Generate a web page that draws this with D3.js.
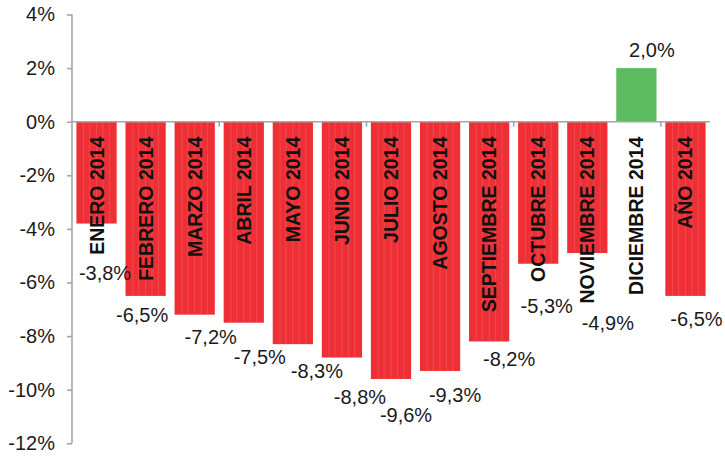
<!DOCTYPE html>
<html>
<head>
<meta charset="utf-8">
<script src="https://cdn.jsdelivr.net/npm/d3@7"></script>
<style>
  body { margin: 0; background: #fff; }
  svg { display: block; font-family: "Liberation Sans", Arial, sans-serif; }
  .yAxis path { stroke: #a6a6a6; stroke-width: 1.6; }
  .yAxis line { stroke: #a6a6a6; stroke-width: 1.6; }
  .yAxis text { font-size: 20px; fill: #1a1a1a; }
</style>
</head>
<body>
<script>
//chart data
var months = ["ENERO 2014", "FEBRERO 2014", "MARZO 2014", "ABRIL 2014", "MAYO 2014", "JUNIO 2014",
    "JULIO 2014", "AGOSTO 2014", "SEPTIEMBRE 2014", "OCTUBRE 2014", "NOVIEMBRE 2014",
    "DICIEMBRE 2014", "AÑO 2014"];
var values = [-3.8, -6.5, -7.2, -7.5, -8.3, -8.8, -9.6, -9.3, -8.2, -5.3, -4.9, 2.0, -6.5];
var yTicks = [-12, -10, -8, -6, -4, -2, 0, 2, 4];

//hand-moved data labels in the original (pixel nudges from the bar end)
var labelDx = [8.5, -3.5, 16, 16, 24, 18, 15, 15, 20, 8.5, 20.5, 15.5, 11];
var labelDy = [49.5, 19, 22, 34, 26.5, 39, 36, 24, 17.5, 42, 70, -18, 23];

window.onload = setChart();

function setChart(){
    var width = 725,
        height = 457;
    var left = 72, right = 710, top = 14.5, bottom = 443.3;

    var svg = d3.select("body")
        .append("svg")
        .attr("width", width)
        .attr("height", height);

    var x = d3.scaleBand()
        .domain(months)
        .range([left, right])
        .paddingInner(0.18)
        .paddingOuter(0.09);

    var y = d3.scaleLinear()
        .domain([-12, 4])
        .range([bottom, top]);

    //y axis
    var yAxis = d3.axisLeft(y)
        .tickValues(yTicks)
        .tickSize(5)
        .tickPadding(12)
        .tickFormat(function(d){ return d + "%"; });

    svg.append("g")
        .attr("class", "yAxis")
        .attr("transform", "translate(" + left + ",0)")
        .call(yAxis)
        .call(function(g){ g.select(".domain").attr("d", "M0," + y(-12) + "V" + y(4)); });

    //bars
    var bars = svg.selectAll(".bar")
        .data(values)
        .enter()
        .append("rect")
        .attr("class", "bar")
        .attr("x", function(d, i){ return x(months[i]); })
        .attr("width", x.bandwidth())
        .attr("y", function(d){ return y(Math.max(0, d)); })
        .attr("height", function(d){ return Math.abs(y(d) - y(0)); })
        .attr("fill", function(d){ return d >= 0 ? "#5cbb5f" : "#ee3036"; });

    //faint vertical streaks inside the red bars
    var streaks = [0.18, 0.33, 0.5, 0.66, 0.82];
    values.forEach(function(d, i){
        if (d >= 0) return;
        streaks.forEach(function(f){
            var sx = x(months[i]) + f * x.bandwidth();
            svg.append("line")
                .attr("x1", sx).attr("x2", sx)
                .attr("y1", y(0)).attr("y2", y(d))
                .attr("stroke", "#f46a6e")
                .attr("stroke-width", 0.8)
                .attr("opacity", 0.55);
        });
    });

    //zero line with a tick every third category
    svg.append("line")
        .attr("x1", left).attr("x2", right)
        .attr("y1", y(0)).attr("y2", y(0))
        .attr("stroke", "#a6a6a6")
        .attr("stroke-width", 1.6);

    var step = x.step();
    [3, 6, 9, 12].forEach(function(k){
        var tx = left + k * step;
        svg.append("line")
            .attr("x1", tx).attr("x2", tx)
            .attr("y1", y(0)).attr("y2", y(0) + 5)
            .attr("stroke", "#a6a6a6")
            .attr("stroke-width", 1.6);
    });

    //category labels, rotated inside the bars
    svg.selectAll(".cat")
        .data(months)
        .enter()
        .append("text")
        .attr("class", "cat")
        .attr("transform", function(d){
            return "translate(" + (x(d) + x.bandwidth() / 2) + "," + (y(0) + 15) + ") rotate(-90)";
        })
        .attr("text-anchor", "end")
        .attr("dy", "0.36em")
        .attr("font-size", "19.5px")
        .attr("font-weight", "bold")
        .attr("fill", "#111")
        .text(function(d){ return d; });

    //value labels (Spanish decimal comma, plain hyphen minus)
    svg.selectAll(".val")
        .data(values)
        .enter()
        .append("text")
        .attr("class", "val")
        .attr("x", function(d, i){ return x(months[i]) + x.bandwidth() / 2 + labelDx[i]; })
        .attr("y", function(d, i){ return y(d) + labelDy[i]; })
        .attr("dy", "0.35em")
        .attr("text-anchor", "middle")
        .attr("font-size", "20px")
        .attr("fill", "#1a1a1a")
        .text(function(d){ return d.toFixed(1).replace(".", ",") + "%"; });
};
</script>
</body>
</html>
